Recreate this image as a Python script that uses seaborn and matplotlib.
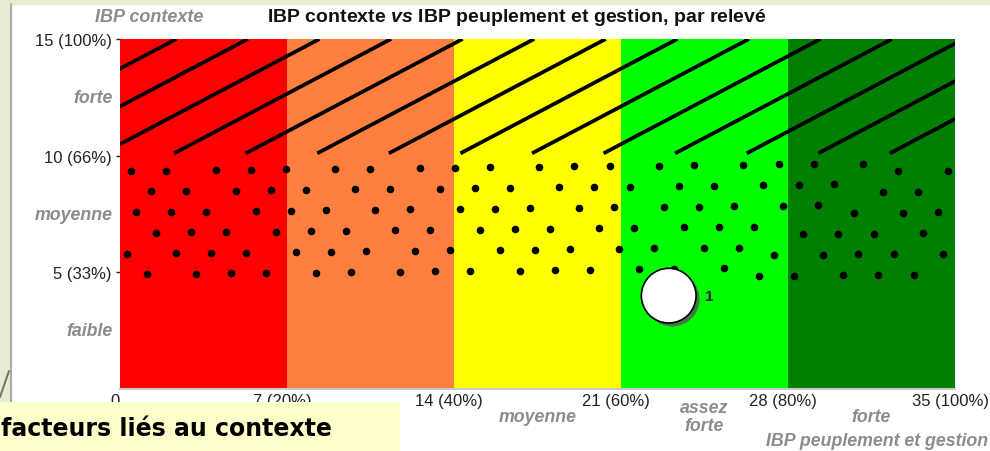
import numpy as np
import pandas as pd
import seaborn as sns
import matplotlib.pyplot as plt
from matplotlib.patches import Rectangle
from matplotlib.lines import Line2D
from matplotlib import patheffects
from matplotlib.transforms import blended_transform_factory, ScaledTranslation

# bandes IBP peuplement et gestion (axe x)
band_edges = [0, 7, 14, 21, 28, 35]
band_colors = ['#FF0000', '#FF7F3F', '#FFFF00', '#00FF00', '#007F00']
band_labels = ['', '', 'moyenne', 'assez\nforte', 'forte']
x_ticks = [0, 7, 14, 21, 28, 35]
x_ticklabels = ['0', '7 (20%)', '14 (40%)', '21 (60%)', '28 (80%)', '35 (100%)']

# zones IBP contexte (axe y)
zone_edges = [0, 5, 10, 15]
zone_labels = ['faible', 'moyenne', 'forte']
y_ticks = [5, 10, 15]
y_ticklabels = ['5 (33%)', '10 (66%)', '15 (100%)']

# relevés
releve_id = ['1']
releve_x = [23]
releve_y = [4]

sns.set_theme(style='white')
plt.rcParams['font.family'] = ['Liberation Sans', 'DejaVu Sans']
plt.rcParams['mathtext.fontset'] = 'custom'
plt.rcParams['mathtext.bfit'] = 'Liberation Sans:bold:italic'

grey = '#8C8C8C'
lab_size = 12.8
fig = plt.figure(figsize=(9.9, 4.52), dpi=100)
fig.patch.set_facecolor('white')
ax = fig.add_axes([120 / 990, 62 / 452, 835 / 990, 350 / 452])

# fonds colorés
for i, c in enumerate(band_colors):
    ax.axvspan(band_edges[i], band_edges[i + 1], color=c, lw=0, zorder=0)

# texture hachurée (zone forte)
y0, y1 = zone_edges[2], zone_edges[3]
clip = Rectangle((band_edges[0], y0), band_edges[-1], y1 - y0, transform=ax.transData)
slope, step = 0.55, 3.0
for x0 in np.arange(-6.73 - 3 * step, band_edges[-1], step):
    ln, = ax.plot([x0, x0 + (y1 - y0) / slope], [y0 + 0.1, y1], color='black',
                  lw=2.7, solid_capstyle='butt', zorder=1)
    ln.set_clip_path(clip)

# texture pointillée (zone moyenne)
dots_x, dots_y = [], []
gold = 0.618034
k = 0
for r, yy in enumerate(np.arange(9.5, 4.9, -0.9)):
    for xx in np.arange(0.4 + (r % 2) * 0.85, 35, 1.7):
        k += 1
        dots_x.append(xx + ((k * gold) % 1 - 0.5) * 0.6)
        dots_y.append(yy + ((k * gold * 1.7) % 1 - 0.5) * 0.35)
ax.scatter(dots_x, dots_y, s=30, color='black', lw=0, zorder=1)

# relevé
df = pd.DataFrame({'x': releve_x, 'y': releve_y, 'id': releve_id})
sns.scatterplot(data=df, x='x', y='y', s=1550, color='white', edgecolor='black',
                linewidth=1.2, zorder=5, ax=ax, legend=False)
ax.collections[-1].set_path_effects([
    patheffects.SimplePatchShadow(offset=(2.5, -2.5), shadow_rgbFace='#555555', alpha=0.8),
    patheffects.Normal()])
for _, row in df.iterrows():
    ax.annotate(row['id'], (row['x'], row['y']), xytext=(26, 0), textcoords='offset points',
                ha='left', va='center', fontsize=11, fontweight='bold', color='#222222', zorder=6)

ax.set_xlim(band_edges[0], band_edges[-1])
ax.set_ylim(zone_edges[0], zone_edges[-1])
ax.set_xticks(x_ticks)
ax.set_xticklabels(x_ticklabels)
ax.set_yticks(y_ticks)
ax.set_yticklabels(y_ticklabels)
ax.set_xlabel('')
ax.set_ylabel('')
ax.tick_params(axis='x', length=0, pad=3, labelsize=12, colors='#222222')
ax.tick_params(axis='y', length=3, width=1, pad=3, labelsize=12, colors='#222222', left=True)
shift = ScaledTranslation(-5 / 100, 0, fig.dpi_scale_trans)
for t in ax.get_xticklabels():
    t.set_transform(t.get_transform() + shift)
for s in ['top', 'right', 'left']:
    ax.spines[s].set_visible(False)
ax.spines['bottom'].set_color('#C8C8C8')
ax.spines['bottom'].set_linewidth(1.5)

# libellés des classes
tr_x = blended_transform_factory(ax.transData, ax.transAxes)
for i, lab in enumerate(band_labels):
    xc = (band_edges[i] + band_edges[i + 1]) / 2
    ax.text(xc, -0.078, lab, transform=tr_x, ha='center', va='center', fontsize=lab_size,
            style='italic', weight='bold', color=grey, linespacing=1.1)
tr_y = blended_transform_factory(ax.transAxes, ax.transData)
for i, lab in enumerate(zone_labels):
    yc = (zone_edges[i] + zone_edges[i + 1]) / 2
    ax.text(-0.0084, yc, lab, transform=tr_y, ha='right', va='center', fontsize=lab_size,
            style='italic', weight='bold', color=grey)

fig.text(149 / 990, 1 - 18 / 452, 'IBP contexte', ha='center', va='center', fontsize=13,
         style='italic', weight='bold', color=grey)
fig.text(988 / 990, 1 - 442 / 452, 'IBP peuplement et gestion', ha='right', va='center',
         fontsize=lab_size, style='italic', weight='bold', color=grey)
fig.text(517 / 990, 1 - 18 / 452, r'IBP contexte $\mathbfit{vs}$ IBP peuplement et gestion, par relevé',
         ha='center', va='center', fontsize=14, weight='bold', color='#111111')

# cadre de la diapositive
strip = '#E8EBD3'
fig.patches.append(Rectangle((0, 0), 10 / 990, 1, transform=fig.transFigure, color=strip, zorder=-5))
fig.patches.append(Rectangle((0, 1 - 5 / 452), 1, 5 / 452, transform=fig.transFigure, color=strip, zorder=-5))
fig.lines.append(Line2D([10.5 / 990, 10.5 / 990], [0, 1 - 5 / 452], transform=fig.transFigure,
                        color='#AAAAAA', lw=1.5))
fig.lines.append(Line2D([0, 9 / 990], [1 - 398 / 452, 1 - 372 / 452], transform=fig.transFigure,
                        color='#7A7560', lw=1.5))

# encadré "facteurs liés au contexte"
fig.patches.append(Rectangle((0, 0), 400 / 990, 49 / 452, transform=fig.transFigure,
                             facecolor='#FFFFCC', edgecolor='none', zorder=10))
fig.text(1 / 990, 1 - 436 / 452, 'facteurs liés au contexte', ha='left', va='baseline',
         fontsize=17, family='DejaVu Sans', weight='bold', color='black', zorder=11)

fig.savefig('out.png', dpi=100)
